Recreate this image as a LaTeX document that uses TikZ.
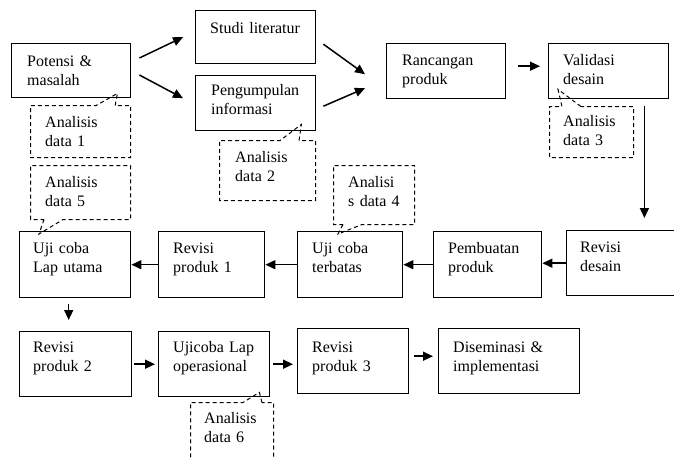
\documentclass[tikz,border=0pt]{standalone}
\usepackage{fontspec}
\setmainfont{Liberation Serif}
\usetikzlibrary{arrows.meta,shapes.callouts,calc}

\begin{document}
\begin{tikzpicture}[x=1pt,y=-1pt,
  stage/.style={draw, line width=1.4pt, rectangle, inner sep=0pt, anchor=north west},
  note/.style={rectangle callout, draw, dash pattern=on 4pt off 3pt, line width=1pt,
    inner sep=0pt, anchor=north west, callout pointer width=19pt},
  lbl/.style={anchor=base west, inner sep=0pt, text width=130pt, align=left,
    font=\fontsize{16}{19.5}\selectfont},
  arr/.style={line width=1.5pt, -{Triangle[length=10pt,width=9pt]}}]

\useasboundingbox (0,0) rectangle (674,458);

% stages of the development procedure
\node[stage, minimum width=119pt, minimum height=54pt] (potensi) at (11,43) {};
\node[stage, minimum width=120pt, minimum height=53pt] (studi) at (195,10) {};
\node[stage, minimum width=120pt, minimum height=55pt] (pengumpulan) at (195,75) {};
\node[stage, minimum width=119pt, minimum height=55pt] (rancangan) at (386,43) {};
\node[stage, minimum width=120pt, minimum height=55pt] (validasi) at (548,43) {};
\node[stage, minimum width=124pt, minimum height=65pt] (revdesain) at (566,230) {};
\node[stage, minimum width=108pt, minimum height=66pt] (pembuatan) at (433,231) {};
\node[stage, minimum width=105pt, minimum height=66pt] (terbatas) at (297,231) {};
\node[stage, minimum width=106pt, minimum height=66pt] (revisiA) at (158,231) {};
\node[stage, minimum width=111pt, minimum height=66pt] (lapUtama) at (19,231) {};
\node[stage, minimum width=112pt, minimum height=65pt] (revisiB) at (19,331) {};
\node[stage, minimum width=111pt, minimum height=65pt] (operasional) at (158,331) {};
\node[stage, minimum width=111pt, minimum height=65pt] (revisiC) at (297,328) {};
\node[stage, minimum width=141pt, minimum height=65pt] (diseminasi) at (438,328) {};

% dashed analysis callouts
\node[note, minimum width=100pt, minimum height=52pt,
  callout absolute pointer={($(potensi.south east)+(-14,-5)$)}] (an1) at (30,105) {};
\node[note, minimum width=96pt, minimum height=60pt,
  callout absolute pointer={($(pengumpulan.south east)+(-15,-7)$)}] (an2) at (219,140) {};
\node[note, minimum width=84pt, minimum height=51pt,
  callout absolute pointer={($(validasi.south west)+(10,-10)$)}] (an3) at (549,106) {};
\node[note, minimum width=81pt, minimum height=59pt,
  callout absolute pointer={($(terbatas.north west)+(41,3)$)}] (an4) at (333,165) {};
\node[note, minimum width=100pt, minimum height=54pt,
  callout absolute pointer={($(lapUtama.north west)+(20,3)$)}] (an5) at (30,165) {};
\node[note, minimum width=83pt, minimum height=60pt,
  callout absolute pointer={($(operasional.south east)+(-11,-5)$)}] (an6) at (190,402) {};

% texts
\node[lbl] (potensi-t) at (27,66) {Potensi \&\\masalah};
\node[lbl] (studi-t) at (210,33) {Studi literatur};
\node[lbl] (pengumpulan-t) at (211,95) {Pengumpulan\\informasi};
\node[lbl] (rancangan-t) at (402,65) {Rancangan\\produk};
\node[lbl] (validasi-t) at (563,65) {Validasi\\desain};
\node[lbl] (revdesain-t) at (580,252) {Revisi\\desain};
\node[lbl] (pembuatan-t) at (448,253) {Pembuatan\\produk};
\node[lbl] (terbatas-t) at (312,253) {Uji coba\\terbatas};
\node[lbl] (revisiA-t) at (173,253) {Revisi\\produk 1};
\node[lbl] (lapUtama-t) at (33,253) {Uji coba\\Lap utama};
\node[lbl] (revisiB-t) at (33,352) {Revisi\\produk 2};
\node[lbl] (operasional-t) at (173,352) {Ujicoba Lap\\operasional};
\node[lbl] (revisiC-t) at (312,352) {Revisi\\produk 3};
\node[lbl] (diseminasi-t) at (453,352) {Diseminasi \&\\implementasi};
\node[lbl] (an1-t) at (45,127) {Analisis\\data 1};
\node[lbl] (an2-t) at (235,162) {Analisis\\data 2};
\node[lbl] (an3-t) at (563,126) {Analisis\\data 3};
\node[lbl] (an4-t) at (348,187) {Analisi\\s data 4};
\node[lbl] (an5-t) at (45,187) {Analisis\\data 5};
\node[lbl] (an6-t) at (204,423) {Analisis\\data 6};

% flow arrows
\draw[arr] ($(potensi.north east)+(8,15)$) -- ($(studi.west)+(-12,0)$);
\draw[arr] ($(potensi.north east)+(8,32)$) -- ($(pengumpulan.west)+(-12,-5)$);
\draw[arr] ($(studi.east)+(7,7)$) -- ($(rancangan.west)+(-21,3)$);
\draw[arr] ($(pengumpulan.east)+(7,3)$) -- ($(rancangan.west)+(-21,17)$);
\draw[arr] ($(rancangan.east)+(12,-5)$) -- ($(validasi.west)+(-8,-5)$);
\coordinate (vd) at ($(validasi.south east)+(-25,7)$);
\draw[arr] (vd) -- ($(vd |- revdesain.north)+(0,-12)$);

\draw[arr] (revdesain.west) -- (revdesain.west -| pembuatan.east);
\draw[arr] (pembuatan.west) -- (pembuatan.west -| terbatas.east);
\draw[arr] (terbatas.west) -- (terbatas.west -| revisiA.east);
\draw[arr] (revisiA.west) -- (revisiA.west -| lapUtama.east);

\coordinate (ud) at ($(lapUtama.south)+(-6.5,6)$);
\draw[arr] (ud) -- ($(ud |- revisiB.north)+(0,-11)$);

\draw[arr] ($(revisiB.east)+(2,0)$) -- ($(revisiB.east -| operasional.west)+(-3,0)$);
\draw[arr] ($(operasional.east)+(3,0)$) -- ($(operasional.east -| revisiC.west)+(-4,0)$);
\draw[arr] ($(revisiC.east)+(5,-5)$) -- ($(revisiC.east -| diseminasi.west)+(-5,-5)$);
\end{tikzpicture}
\end{document}
